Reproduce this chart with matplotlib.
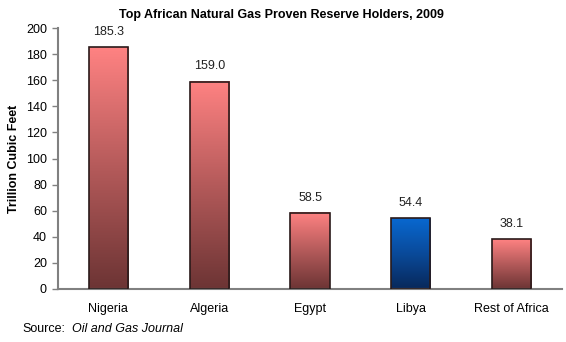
import numpy as np
import matplotlib
matplotlib.use("Agg")
import matplotlib.pyplot as plt
from matplotlib.colors import LinearSegmentedColormap

plt.rcParams["font.family"] = ["Liberation Sans", "DejaVu Sans"]

countries = ["Nigeria", "Algeria", "Egypt", "Libya", "Rest of Africa"]
reserves = [185.3, 159.0, 58.5, 54.4, 38.1]
highlight = ["Libya"]

pink = LinearSegmentedColormap.from_list("pink", ["#6c3434", "#b45a5a", "#ff8282"])
blue = LinearSegmentedColormap.from_list("blue", ["#08285a", "#0a4a9a", "#0868d0"])

fig = plt.figure(figsize=(5.66, 3.42), dpi=100)
ax = fig.add_axes([0.1025, 0.155, 0.8905, 0.763])

x = np.arange(len(countries))
width = 0.39
grad = np.linspace(0, 1, 256).reshape(-1, 1)
for xi, name, val in zip(x, countries, reserves):
    cmap = blue if name in highlight else pink
    ax.imshow(grad, cmap=cmap, origin="lower", aspect="auto",
              extent=(xi - width / 2, xi + width / 2, 0, val), zorder=2)
    ax.bar(xi, val, width=width, facecolor="none", edgecolor="#2a1a1a",
           linewidth=1.2, zorder=3)
    ax.text(xi, val + 7, f"{val:.1f}", ha="center", va="bottom",
            fontsize=9, color="#222222")

ax.set_xlim(-0.5, len(countries) - 0.5)
ax.set_ylim(0, 200)
ax.set_yticks(range(0, 201, 20))
ax.set_xticks(x)
ax.set_xticklabels(countries)
ax.tick_params(axis="x", length=0, pad=10, labelsize=9)
ax.tick_params(axis="y", length=4, width=1, color="#808080", labelsize=9, pad=4)

for side in ["top", "right"]:
    ax.spines[side].set_visible(False)
for side in ["left", "bottom"]:
    ax.spines[side].set_color("#808080")
    ax.spines[side].set_linewidth(1.5)

ax.set_ylabel("Trillion Cubic Feet", fontsize=9, fontweight="bold", labelpad=4)
fig.text(0.498, 0.957, "Top African Natural Gas Proven Reserve Holders, 2009",
         ha="center", va="center", fontsize=9, fontweight="bold")
fig.text(0.04, 0.038, "Source:", ha="left", va="center", fontsize=9)
fig.text(0.127, 0.038, "Oil and Gas Journal", ha="left", va="center",
         fontsize=9, style="italic")

fig.savefig("out.png", dpi=100)
